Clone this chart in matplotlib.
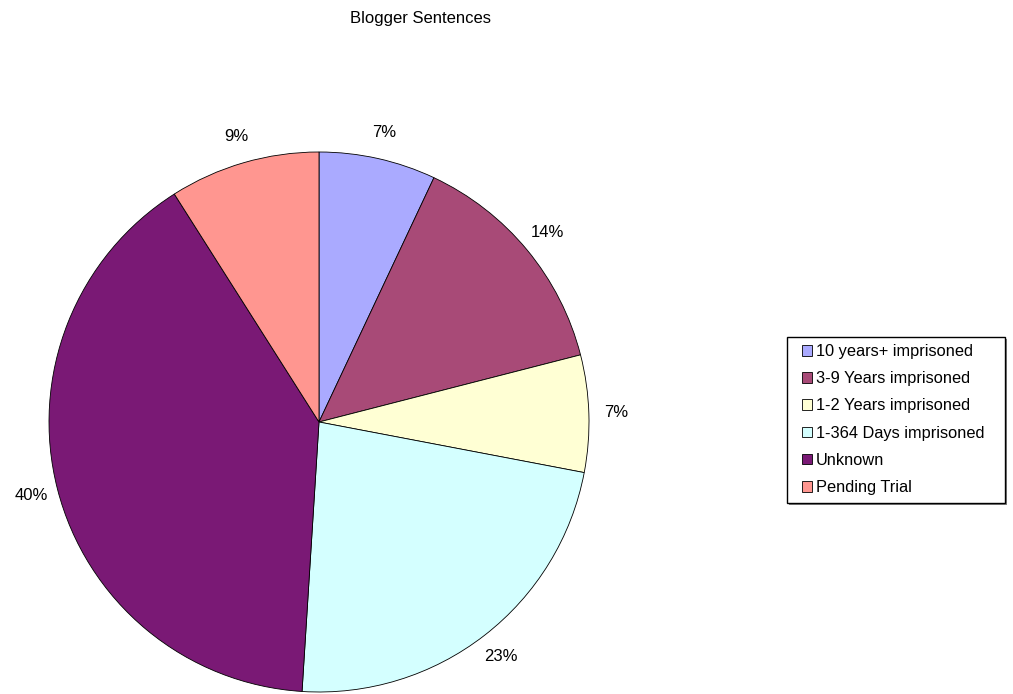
import matplotlib.pyplot as plt
from matplotlib.patches import Rectangle

plt.rcParams['font.family'] = ['Liberation Sans', 'DejaVu Sans']

# sentence categories and their share of cases (percent)
labels = ['10 years+ imprisoned', '3-9 Years imprisoned', '1-2 Years imprisoned',
          '1-364 Days imprisoned', 'Unknown', 'Pending Trial']
shares = [7, 14, 7, 23, 40, 9]
colors = ['#AAAAFF', '#A84A77', '#FFFFD4', '#D4FFFF', '#7A1975', '#FF9690']

W, H = 1013, 694
fig = plt.figure(figsize=(W / 100, H / 100), dpi=100)
ax = fig.add_axes([0, 0, 1, 1])

wedges, texts, pcts = ax.pie(shares, colors=colors, startangle=90, counterclock=False,
                             radius=270, center=(319, H - 422),
                             autopct=lambda p: '%.0f%%' % p, pctdistance=1.1,
                             wedgeprops=dict(edgecolor='black', linewidth=0.6),
                             textprops=dict(fontsize=12, color='black'))
ax.set_xlim(0, W)
ax.set_ylim(0, H)
ax.axis('off')

fig.text(420 / W, 1 - 18 / H, 'Blogger Sentences', ha='center', va='center', fontsize=12)

# legend box with a small drop shadow
bx, by, bw, bh = 787, 337, 218, 166
fig.patches.append(Rectangle(((bx + 2) / W, 1 - (by + bh + 2) / H), bw / W, bh / H,
                             transform=fig.transFigure, fc='#808080', ec='none', zorder=0))
fig.patches.append(Rectangle((bx / W, 1 - (by + bh) / H), bw / W, bh / H,
                             transform=fig.transFigure, fc='white', ec='black', lw=1, zorder=1))

leg = fig.legend(wedges, labels, loc='upper left', bbox_to_anchor=(802 / W, 1 - 344 / H),
                 frameon=False, borderpad=0, borderaxespad=0, handlelength=0.62,
                 handleheight=0.62, handletextpad=0.22, labelspacing=0.745, fontsize=11.8)
leg.set_zorder(5)

fig.savefig('out.png', dpi=100)
